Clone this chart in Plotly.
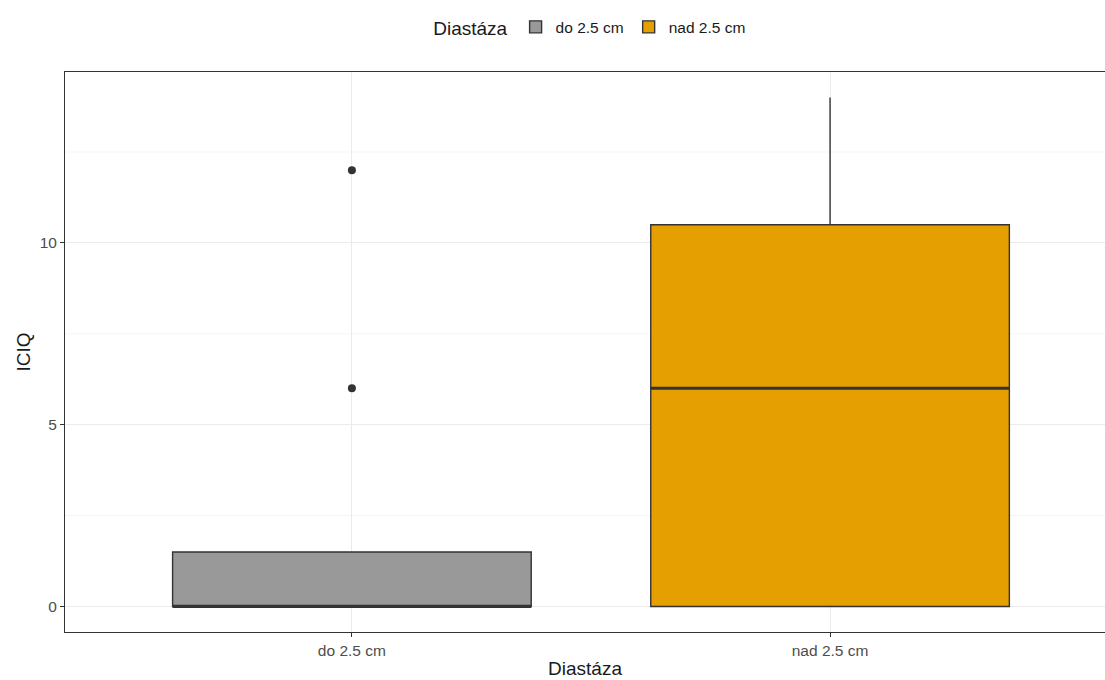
import plotly.graph_objects as go

# Data
categories = ["do 2.5 cm", "nad 2.5 cm"]
q1 = [0, 0]
medians = [0, 6]
q3 = [1.5, 10.5]
lower_fence = [0, 0]
upper_fence = [1.5, 14]
outlier_cat = ["do 2.5 cm", "do 2.5 cm"]
outlier_val = [12, 6]
colors = ["#999999", "#E69F00"]
y_ticks = [0, 5, 10]
minor_vals = [2.5, 7.5, 12.5]

LINE = "#333333"
FONT = "Liberation Sans, Arial, sans-serif"
BOX_W = 0.75
TICK_SIZE = 15.5
TITLE_SIZE = 19

fig = go.Figure()
pos = {c: i for i, c in enumerate(categories)}

for i, c in enumerate(categories):
    fig.add_trace(go.Box(
        name=c, x=[pos[c]], q1=[q1[i]], median=[medians[i]], q3=[q3[i]],
        lowerfence=[lower_fence[i]], upperfence=[upper_fence[i]],
        fillcolor=colors[i], line=dict(color=LINE, width=1.4),
        whiskerwidth=0, width=BOX_W, boxpoints=False, hoverinfo="skip",
    ))
    # thicker median line like ggplot
    fig.add_trace(go.Scatter(
        x=[pos[c] - BOX_W / 2, pos[c] + BOX_W / 2], y=[medians[i], medians[i]],
        mode="lines", line=dict(color=LINE, width=3), showlegend=False, hoverinfo="skip",
    ))

fig.add_trace(go.Scatter(
    x=[pos[c] for c in outlier_cat], y=outlier_val, mode="markers",
    marker=dict(color=LINE, size=8), showlegend=False, hoverinfo="skip",
))

for v in minor_vals:
    fig.add_hline(y=v, line=dict(color="#F2F2F2", width=0.8), layer="below")

fig.update_layout(
    width=1105, height=680,
    margin=dict(l=65, r=0, t=72, b=48, autoexpand=False),
    paper_bgcolor="white", plot_bgcolor="white",
    font=dict(family=FONT, color="#4D4D4D", size=TICK_SIZE),
    boxmode="overlay",
    legend=dict(
        orientation="h", x=0.506, xanchor="center", y=1.079, yanchor="middle",
        title=dict(text="Diastáza", font=dict(size=TITLE_SIZE, color="#1A1A1A")),
        font=dict(size=TICK_SIZE, color="#1A1A1A"),
        traceorder="normal", itemwidth=30,
    ),
    xaxis=dict(
        range=[-0.6, 1.575], tickvals=[pos[c] for c in categories], ticktext=categories,
        showgrid=True, gridcolor="#EBEBEB", gridwidth=1,
        showline=True, linecolor="#333333", linewidth=1, mirror=True,
        ticks="outside", ticklen=4, tickcolor="#333333",
        tickfont=dict(size=TICK_SIZE, color="#4D4D4D"),
        title=dict(text="Diastáza", font=dict(size=TITLE_SIZE, color="#1A1A1A"), standoff=4),
        zeroline=False, automargin=False,
    ),
    yaxis=dict(
        range=[-0.7, 14.7], tickvals=y_ticks,
        showgrid=True, gridcolor="#EBEBEB", gridwidth=1,
        showline=True, linecolor="#333333", linewidth=1, mirror=False,
        ticks="outside", ticklen=4, tickcolor="#333333",
        tickfont=dict(size=TICK_SIZE, color="#4D4D4D"),
        title=dict(text="ICIQ", font=dict(size=TITLE_SIZE, color="#1A1A1A"), standoff=4),
        zeroline=False, automargin=False,
    ),
)

fig.write_html("out.html")
